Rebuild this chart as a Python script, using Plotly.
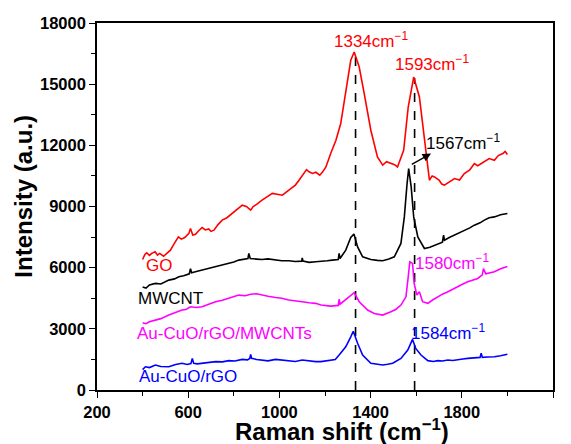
import plotly.graph_objects as go

# ---------------- data ----------------
go_x = [400, 410, 418, 430, 440, 455, 465, 475, 492, 505, 522, 540, 557, 570, 585, 603, 610, 620, 632, 645, 661,
        675, 690, 700, 713, 730, 749, 770, 793, 815, 837, 855, 874, 885, 900, 924, 945, 969, 990, 1013, 1030,
        1050, 1070, 1086, 1100, 1119, 1130, 1145, 1160, 1177, 1190, 1204, 1225, 1248, 1269, 1291, 1313, 1328,
        1350, 1372, 1401, 1430, 1453, 1470, 1489, 1505, 1518, 1545, 1565, 1589, 1614, 1636, 1658, 1670, 1680,
        1700, 1712, 1724, 1745, 1768, 1790, 1811, 1835, 1855, 1870, 1899, 1920, 1943, 1960, 1980, 1990, 2000]
go_y = [6400, 6650, 6730, 6600, 6700, 6780, 6620, 6700, 6560, 6700, 6860, 7200, 7510, 7400, 7480, 7680, 7920,
        7600, 7640, 7800, 7970, 7850, 7900, 7780, 7840, 8100, 8330, 8450, 8660, 8820, 9065, 9000, 8820, 9000,
        9100, 9310, 9450, 9640, 9600, 9555, 9700, 9880, 10050, 10290, 10500, 10810, 10700, 10620, 10680, 10535,
        10700, 10940, 11600, 12250, 13070, 14700, 16170, 16580, 15840, 14540, 12740, 11430, 11030, 11200, 11110,
        11050, 10940, 11760, 13880, 15350, 14370, 12250, 10290, 10500, 10450, 10300, 10100, 10045, 10200, 10370,
        10300, 10620, 10800, 11110, 11000, 11190, 11350, 11270, 11500, 11600, 11700, 11550]

mw_x = [400, 415, 430, 456, 480, 515, 540, 559, 580, 605, 610, 615, 640, 661, 690, 720, 750, 778, 800, 822, 845,
        862, 866, 872, 900, 924, 950, 983, 1010, 1041, 1070, 1098, 1100, 1104, 1130, 1159, 1188, 1210, 1232,
        1258, 1262, 1266, 1291, 1313, 1327, 1343, 1365, 1401, 1430, 1453, 1480, 1504, 1533, 1548, 1560, 1567,
        1578, 1589, 1607, 1636, 1660, 1680, 1700, 1715, 1720, 1724, 1745, 1768, 1790, 1811, 1835, 1855, 1880,
        1899, 1920, 1943, 1970, 2000]
mw_y = [5050, 5000, 5150, 5230, 5200, 5390, 5450, 5550, 5600, 5700, 5950, 5750, 5820, 5880, 5950, 6040, 6150,
        6210, 6280, 6370, 6420, 6450, 6700, 6450, 6420, 6400, 6430, 6370, 6340, 6340, 6300, 6320, 6480, 6320,
        6260, 6290, 6300, 6340, 6370, 6400, 6700, 6450, 6860, 7480, 7650, 7020, 6530, 6400, 6360, 6340, 6420,
        6530, 7190, 8490, 10130, 10860, 9960, 8490, 7510, 6940, 7000, 7100, 7200, 7250, 7600, 7350, 7480, 7600,
        7700, 7840, 7950, 8085, 8200, 8330, 8450, 8490, 8600, 8660]

mg_x = [400, 415, 430, 456, 480, 515, 545, 573, 590, 610, 635, 661, 690, 720, 750, 778, 800, 822, 850, 874, 900,
        924, 950, 983, 1010, 1041, 1070, 1100, 1130, 1159, 1182, 1205, 1225, 1258, 1262, 1266, 1299, 1328, 1350,
        1387, 1416, 1453, 1489, 1510, 1533, 1555, 1565, 1572, 1584, 1591, 1603, 1614, 1628, 1651, 1670, 1695,
        1715, 1739, 1760, 1782, 1805, 1826, 1850, 1870, 1890, 1895, 1905, 1925, 1943, 1970, 2000]
mg_y = [3300, 3250, 3350, 3430, 3500, 3675, 3800, 3920, 3950, 4080, 4050, 4080, 4200, 4330, 4400, 4490, 4560,
        4655, 4620, 4700, 4720, 4655, 4600, 4540, 4500, 4410, 4380, 4330, 4280, 4250, 4165, 4150, 4115, 4150,
        4450, 4210, 4490, 4770, 4330, 3920, 3755, 3675, 3840, 3950, 4165, 4570, 5550, 6290, 6210, 5230, 4655,
        4820, 4330, 4250, 4400, 4570, 4700, 4820, 4950, 5065, 5200, 5310, 5400, 5470, 5650, 5950, 5700, 5750,
        5800, 5950, 6060]

bl_x = [400, 412, 430, 456, 480, 515, 545, 573, 595, 612, 618, 624, 640, 661, 690, 720, 750, 778, 805, 837, 860,
        870, 874, 878, 900, 924, 950, 983, 1010, 1041, 1070, 1100, 1130, 1159, 1182, 1205, 1225, 1245, 1262,
        1291, 1313, 1324, 1343, 1365, 1401, 1430, 1453, 1475, 1497, 1533, 1563, 1584, 1598, 1621, 1651, 1675,
        1695, 1715, 1739, 1760, 1782, 1805, 1826, 1850, 1880, 1885, 1890, 1915, 1943, 1970, 2000]
bl_y = [1000, 1140, 1100, 1225, 1150, 1140, 1250, 1310, 1250, 1300, 1550, 1310, 1280, 1310, 1350, 1390, 1380,
        1440, 1420, 1500, 1480, 1550, 1750, 1550, 1500, 1470, 1430, 1500, 1460, 1440, 1400, 1470, 1420, 1390,
        1390, 1420, 1440, 1500, 1715, 2120, 2610, 2880, 2290, 1715, 1310, 1250, 1225, 1260, 1310, 1550, 1960,
        2480, 2040, 1715, 1440, 1400, 1440, 1420, 1470, 1450, 1500, 1520, 1550, 1560, 1600, 1800, 1600, 1620,
        1630, 1680, 1750]

peak_lines_x = [1334, 1593]
peak_lines_top = [16500, 15300]

y_ticks = [0, 3000, 6000, 9000, 12000, 15000, 18000]
x_ticks = [200, 600, 1000, 1400, 1800, 2200]

series = [
    ("GO", go_x, go_y, "#ff0000"),
    ("MWCNT", mw_x, mw_y, "#000000"),
    ("Au-CuO/rGO/MWCNTs", mg_x, mg_y, "#ff00ff"),
    ("Au-CuO/rGO", bl_x, bl_y, "#0000ff"),
]

FONT = "Arial, Liberation Sans, sans-serif"

fig = go.Figure()
for xv, top in zip(peak_lines_x, peak_lines_top):
    fig.add_trace(go.Scatter(x=[xv, xv], y=[0, top], mode="lines",
                             line=dict(color="black", width=1.6, dash="dash"),
                             showlegend=False, hoverinfo="skip"))
for name, xs, ys, col in series:
    fig.add_trace(go.Scatter(x=xs, y=ys, mode="lines", name=name,
                             line=dict(color=col, width=1.6), showlegend=False))

# in-plot labels
labels = [
    ("GO", 470, 6130, "#ff0000", "center"),
    ("MWCNT", 522, 4490, "#000000", "center"),
    ("Au-CuO/rGO/MWCNTs", 366, 2780, "#ff00ff", "left"),
    ("Au-CuO/rGO", 377, 650, "#0000ff", "left"),
    ("1334cm<sup>−1</sup>", 1401, 17150, "#ff0000", "center"),
    ("1593cm<sup>−1</sup>", 1670, 16020, "#ff0000", "center"),
    ("1567cm<sup>−1</sup>", 1807, 12150, "#000000", "center"),
    ("1580cm<sup>−1</sup>", 1758, 6290, "#ff00ff", "center"),
    ("1584cm<sup>−1</sup>", 1740, 2860, "#0000ff", "center"),
]
for txt, x, y, col, anc in labels:
    fig.add_annotation(x=x, y=y, xref="x", yref="y", text=txt, showarrow=False,
                       xanchor=anc, yanchor="middle",
                       font=dict(family=FONT, size=17, color=col))

# arrow from the MWCNT G peak to its label
fig.add_annotation(x=1665, y=11600, ax=1574, ay=11025, xref="x", yref="y", axref="x", ayref="y",
                   text="", showarrow=True, arrowhead=2, arrowsize=1.2, arrowwidth=1.4,
                   arrowcolor="black")

# axis titles
fig.add_annotation(x=-0.160, y=0.527, xref="paper", yref="paper", text="Intensity (a.u.)",
                   textangle=-90, showarrow=False, xanchor="center", yanchor="middle",
                   font=dict(family=FONT, size=24, color="black", weight="bold"))
fig.add_annotation(x=0.537, y=-0.109, xref="paper", yref="paper", text="Raman shift (cm<sup>−1</sup>)",
                   showarrow=False, xanchor="center", yanchor="middle",
                   font=dict(family=FONT, size=24, color="black", weight="bold"))

axis_common = dict(showline=True, linecolor="black", linewidth=1.6, mirror=True,
                   ticks="outside", ticklen=6, tickwidth=1.4, tickcolor="black",
                   showgrid=False, zeroline=False,
                   tickfont=dict(family=FONT, size=16.5, color="black", weight="bold"))

fig.update_xaxes(range=[200, 2200], tickvals=x_ticks, ticktext=[str(v) for v in x_ticks],
                 minor=dict(tickvals=[400, 800, 1200, 1600, 2000], ticks="outside", ticklen=4,
                            tickwidth=1.4, tickcolor="black"),
                 **axis_common)
fig.update_yaxes(range=[0, 18000], tickvals=y_ticks, ticktext=[str(v) for v in y_ticks],
                 minor=dict(tickvals=[1500, 4500, 7500, 10500, 13500, 16500], ticks="outside", ticklen=4,
                            tickwidth=1.4, tickcolor="black"),
                 **axis_common)

# page has an 8px body margin, so the figure is drawn 8px smaller and offset accordingly
fig.update_layout(width=563, height=436, margin=dict(l=89, r=18, t=15, b=54, autoexpand=False),
                  plot_bgcolor="white", paper_bgcolor="white", showlegend=False,
                  font=dict(family=FONT))

fig.write_html("out.html")
